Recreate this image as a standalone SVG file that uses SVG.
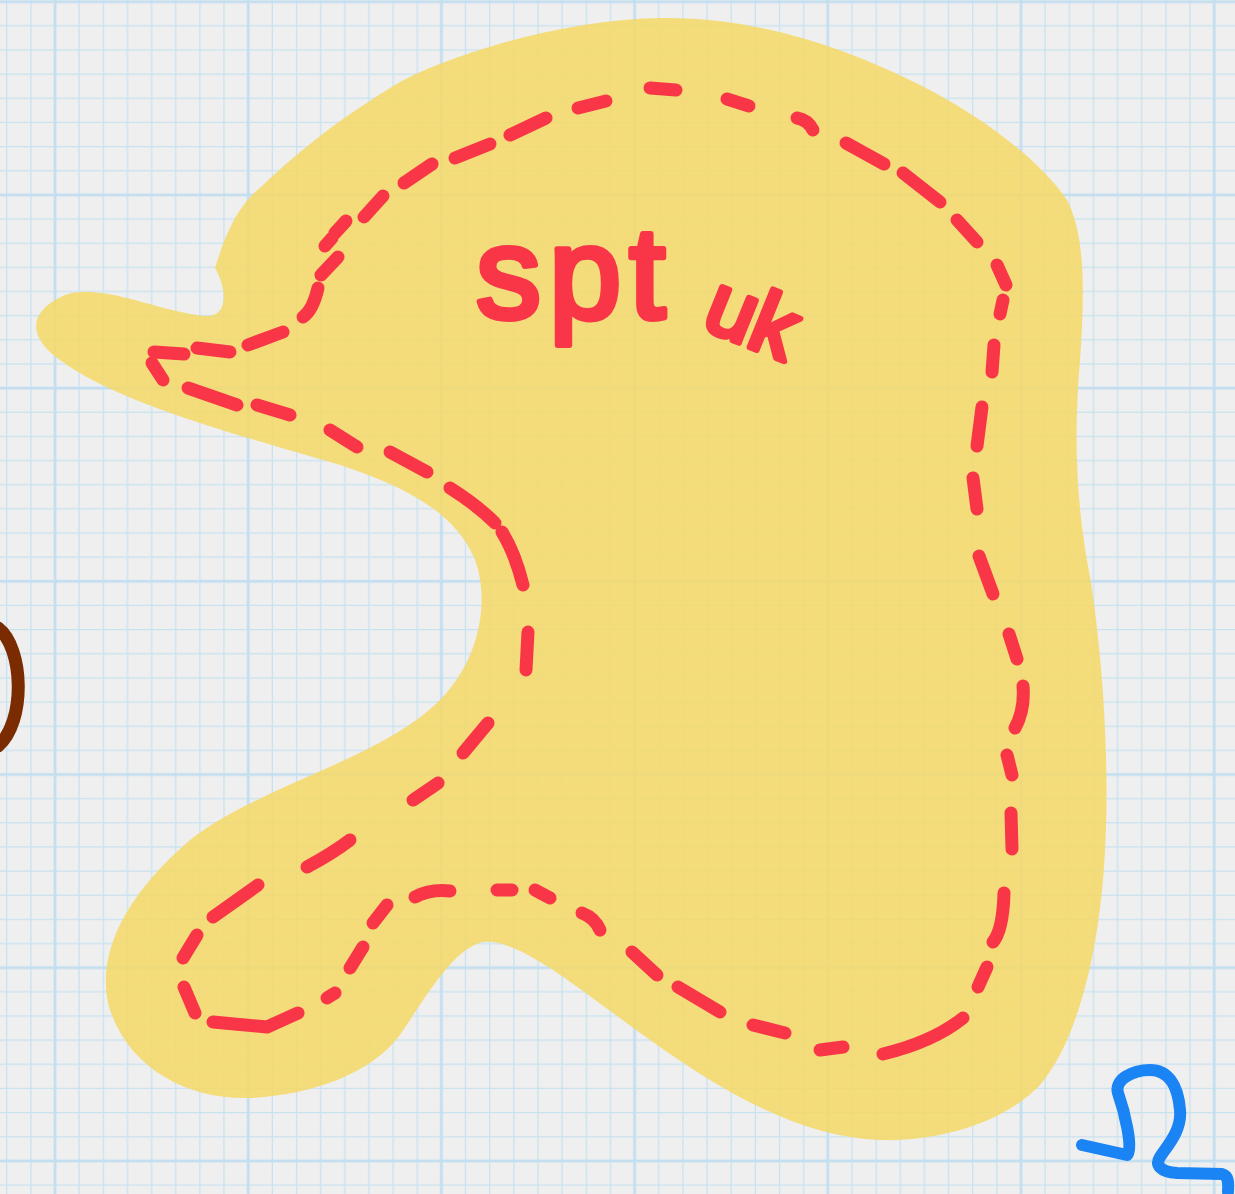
<svg xmlns="http://www.w3.org/2000/svg" width="1235" height="1194" viewBox="0 0 1235 1194">
<style>
.dash{fill:none;stroke:#f93647;stroke-width:13;stroke-linecap:round;stroke-linejoin:round}
.hand{font-family:"Liberation Sans",Arial,sans-serif;fill:#f93647;stroke:#f93647;stroke-width:6;stroke-linejoin:round}
</style>
<defs>
<pattern id="grid" patternUnits="userSpaceOnUse" x="42.925" y="-10.375" width="193.2" height="193.2">
<g stroke="#c8e2ef" stroke-width="1.3">
<path d="M36.225,0V193.2M60.375,0V193.2M84.525,0V193.2M108.675,0V193.2M132.825,0V193.2M156.975,0V193.2M181.125,0V193.2"/>
<path d="M0,36.225H193.2M0,60.375H193.2M0,84.525H193.2M0,108.675H193.2M0,132.825H193.2M0,156.975H193.2M0,181.125H193.2"/>
</g>
<g stroke="#c2def0" stroke-width="2.8">
<path d="M12.075,0V193.2M0,12.075H193.2"/>
</g>
</pattern>
</defs>
<rect width="1235" height="1194" fill="#efefef"/>
<rect width="1235" height="1194" fill="url(#grid)"/>
<g id="blob">
<path fill="#f5d868" fill-opacity="0.86" d="M215,268 C226,232 238,205 262,186 C300,150 340,118 400,82 C450,55 560,20 659,18 C750,16 840,45 920,85 C980,115 1040,160 1067,200 C1085,235 1085,290 1080,360 C1074,430 1075,500 1090,577 C1102,650 1110,760 1105,850 C1100,950 1078,1040 1040,1085 C1005,1122 940,1142 880,1140 C800,1138 720,1090 650,1040 C580,990 520,938 483,942 C455,948 430,990 400,1035 C370,1075 310,1095 250,1098 C190,1100 130,1070 110,1010 C95,960 120,900 190,840 C260,785 380,760 440,700 C480,660 490,600 475,560 C455,510 400,485 340,465 C250,438 120,405 60,360 C25,335 30,310 65,295 C100,282 160,312 205,316 C228,318 228,290 215,268 Z"/>
</g>
<g id="loop">
<path class="dash" d="M154,352 L184,354"/>
<path class="dash" d="M152,363 L163,380"/>
<path class="dash" d="M197,348 L230,352"/>
<path class="dash" d="M248,345 L283,332"/>
<path class="dash" d="M303,317 Q313,310 318,288"/>
<path class="dash" d="M321,275 L338,257"/>
<path class="dash" d="M325,246 L332,238"/>
<path class="dash" d="M335,233 L346,221"/>
<path class="dash" d="M364,217 L383,196"/>
<path class="dash" d="M404,183 L432,164"/>
<path class="dash" d="M455,158 L490,144"/>
<path class="dash" d="M510,135 L546,118"/>
<path class="dash" d="M578,108 L606,101"/>
<path class="dash" d="M650,88 L676,90"/>
<path class="dash" d="M727,99 L749,106"/>
<path class="dash" d="M797,118 Q808,120 813,130"/>
<path class="dash" d="M846,143 L884,164"/>
<path class="dash" d="M903,173 L940,202"/>
<path class="dash" d="M957,220 L977,242"/>
<path class="dash" d="M997,265 L1006,285"/>
<path class="dash" d="M1003,300 L1000,314"/>
<path class="dash" d="M994,345 L992,372"/>
<path class="dash" d="M982,407 L977,446"/>
<path class="dash" d="M973,478 L977,509"/>
<path class="dash" d="M979,556 L993,594"/>
<path class="dash" d="M1009,634 L1017,659"/>
<path class="dash" d="M1023,686 Q1025,710 1015,728"/>
<path class="dash" d="M1007,755 L1012,775"/>
<path class="dash" d="M1011,813 L1012,849"/>
<path class="dash" d="M1004,893 Q1003,930 993,942"/>
<path class="dash" d="M987,967 L978,987"/>
<path class="dash" d="M963,1018 Q933,1042 883,1054"/>
<path class="dash" d="M843,1047 L820,1050"/>
<path class="dash" d="M785,1033 L753,1025"/>
<path class="dash" d="M720,1012 L678,987"/>
<path class="dash" d="M657,975 L632,952"/>
<path class="dash" d="M600,930 Q595,918 582,913"/>
<path class="dash" d="M550,898 L535,890"/>
<path class="dash" d="M512,890 L497,890"/>
<path class="dash" d="M450,891 Q430,889 415,897"/>
<path class="dash" d="M387,905 L373,923"/>
<path class="dash" d="M363,947 L350,968"/>
<path class="dash" d="M335,993 L327,998"/>
<path class="dash" d="M298,1013 L267,1027 L213,1022"/>
<path class="dash" d="M195,1013 L184,987"/>
<path class="dash" d="M183,958 L197,935"/>
<path class="dash" d="M213,917 L258,885"/>
<path class="dash" d="M307,867 Q333,853 350,840"/>
<path class="dash" d="M413,800 L438,783"/>
<path class="dash" d="M463,753 L488,723"/>
<path class="dash" d="M526,670 L528,632"/>
<path class="dash" d="M523,585 Q515,553 502,532"/>
<path class="dash" d="M495,523 Q477,505 450,488"/>
<path class="dash" d="M427,472 L390,452"/>
<path class="dash" d="M357,447 L330,430"/>
<path class="dash" d="M290,415 L257,405"/>
<path class="dash" d="M237,405 L188,388"/>
</g>
<g id="label">
<text class="hand" x="476" y="318" font-size="130" letter-spacing="8">spt</text>
<text class="hand" x="700" y="327" font-size="86" stroke-width="5" transform="rotate(22 700 327)">uk</text>
</g>
<g id="marks">
<path d="M-2,628 C24,648 26,722 -2,746" fill="none" stroke="#7a2c00" stroke-width="13" stroke-linecap="round"/>
<path d="M1082,1145 L1127,1155 C1134,1150 1124,1110 1118,1093 C1114,1080 1132,1070 1150,1070 C1168,1070 1178,1085 1180,1110 C1182,1130 1168,1145 1160,1157 C1155,1165 1160,1172 1177,1173 L1222,1174 C1230,1176 1228,1186 1228,1192" fill="none" stroke="#1a84f5" stroke-width="12" stroke-linecap="round" stroke-linejoin="round"/>
</g>
</svg>
